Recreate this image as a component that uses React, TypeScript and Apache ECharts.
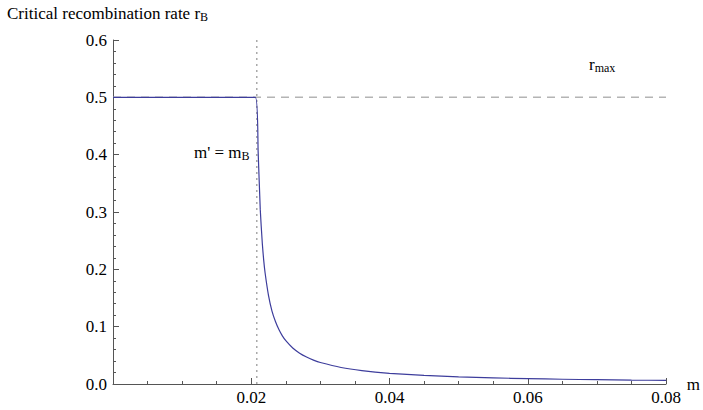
import React, { useEffect, useRef } from "react";
import * as echarts from "echarts";

// Curve: m (x) and critical recombination rate r_B (y)
const mValues = [0, 0.0206, 0.021, 0.0213, 0.0216, 0.0218, 0.022, 0.0225, 0.023, 0.0235, 0.024, 0.0245, 0.025, 0.026, 0.027, 0.028, 0.029, 0.03, 0.033, 0.036, 0.04, 0.045, 0.05, 0.055, 0.06, 0.065, 0.07, 0.075, 0.08];
const rValues = [0.5, 0.5, 0.404, 0.305, 0.245, 0.216, 0.194, 0.154, 0.127, 0.109, 0.095, 0.084, 0.0756, 0.0628, 0.0538, 0.047, 0.0417, 0.0375, 0.0288, 0.0234, 0.0187, 0.0149, 0.0124, 0.0107, 0.0093, 0.0083, 0.0075, 0.0068, 0.0062];

const rMax = 0.5; // horizontal dashed reference
const mB = 0.0208; // vertical dotted reference
const xRange = [0, 0.08];
const yRange = [0, 0.6];
const xTickStep = 0.02;
const yTickStep = 0.1;

const FONT = "'Liberation Serif', 'DejaVu Serif', serif";
const FS = 17;
const SUB = { fontFamily: FONT, fontSize: 12, verticalAlign: "bottom", padding: [7, 0, 0, 0] };

export default function App() {
  const ref = useRef<HTMLDivElement>(null);
  useEffect(() => {
    if (!ref.current) return;
    const chart = echarts.init(ref.current, undefined, { renderer: "svg" });
    const curve = mValues.map((m, i) => [m, rValues[i]]);
    const axisColor = "#555";
    chart.setOption({
      animation: false,
      grid: { left: 113, right: 29, top: 40, bottom: 26 },
      xAxis: {
        type: "value",
        min: xRange[0],
        max: xRange[1],
        interval: xTickStep,
        name: "m",
        nameLocation: "end",
        nameGap: 12,
        nameTextStyle: { fontFamily: FONT, fontSize: FS, color: "#000", verticalAlign: "middle" },
        axisLine: { lineStyle: { color: axisColor, width: 1 } },
        axisTick: { inside: true, length: 6, lineStyle: { color: axisColor } },
        minorTick: { show: true, splitNumber: 4, length: 3, lineStyle: { color: axisColor } },
        splitLine: { show: false },
        axisLabel: {
          margin: 5,
          fontFamily: FONT,
          fontSize: FS,
          color: "#000",
          formatter: (v: number) => (v === 0 ? "" : v.toFixed(2)),
        },
      },
      yAxis: {
        type: "value",
        min: yRange[0],
        max: yRange[1],
        interval: yTickStep,
        axisLine: { show: true, lineStyle: { color: axisColor, width: 1 } },
        axisTick: { show: true, inside: true, length: 6, lineStyle: { color: axisColor } },
        minorTick: { show: true, splitNumber: 5, length: 3, lineStyle: { color: axisColor } },
        splitLine: { show: false },
        axisLabel: {
          margin: 6,
          fontFamily: FONT,
          fontSize: FS,
          color: "#000",
          formatter: (v: number) => v.toFixed(1),
        },
      },
      series: [
        {
          type: "line",
          data: [[xRange[0], rMax], [xRange[1], rMax]],
          showSymbol: false,
          silent: true,
          lineStyle: { color: "#b4b4b4", width: 1.5, type: [8, 6] },
          z: 1,
        },
        {
          type: "line",
          data: [[mB, yRange[0]], [mB, yRange[1]]],
          showSymbol: false,
          silent: true,
          lineStyle: { color: "#aaaaaa", width: 1.5, type: [2, 4] },
          z: 1,
        },
        {
          type: "line",
          data: curve,
          showSymbol: false,
          smooth: 0.2,
          lineStyle: { color: "#3d3d9c", width: 1.2 },
          z: 3,
        },
      ],
      graphic: [
        {
          type: "text",
          left: 7,
          top: 5,
          style: { text: "Critical recombination rate r{s|B}", fontFamily: FONT, fontSize: FS, fill: "#000", rich: { s: SUB } },
        },
        {
          type: "text",
          left: 589,
          top: 56,
          style: { text: "r{s|max}", fontFamily: FONT, fontSize: FS, fill: "#000", rich: { s: SUB } },
        },
        {
          type: "text",
          left: 194,
          top: 144,
          style: { text: "m' = m{s|B}", fontFamily: FONT, fontSize: FS, fill: "#000", rich: { s: SUB } },
        },
      ],
    });
    return () => chart.dispose();
  }, []);
  return (
    <div
      ref={ref}
      style={{ position: "fixed", left: 0, top: 0, width: 703, height: 410, background: "#fff" }}
    />
  );
}
